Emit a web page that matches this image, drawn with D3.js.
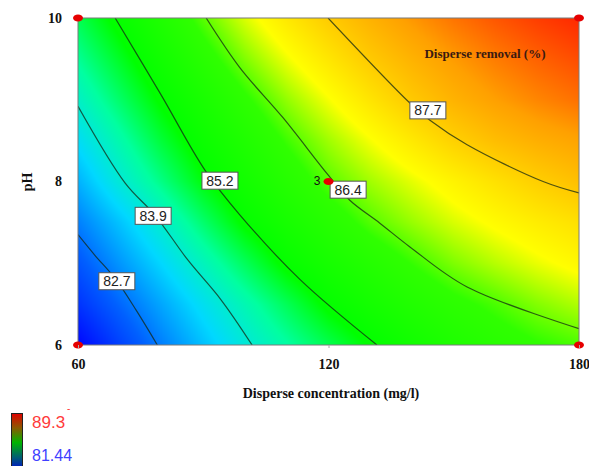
<!DOCTYPE html>
<html>
<head>
<meta charset="utf-8">
<script src="https://cdn.jsdelivr.net/npm/d3@7"></script>
<style>
  body { margin: 0; background: #fff; }
  svg { display: block; }
</style>
</head>
<body>
<div id="chart"></div>
<script>
// grid of the response surface
const concentrations = [60, 70, 80, 90, 100, 110, 120, 130, 140, 150, 160, 170, 180];
const phValues = [6, 6.5, 7, 7.5, 8, 8.5, 9, 9.5, 10];
const removal = [
  [81.50, 82.15, 82.75, 83.30, 83.82, 84.27, 84.71, 85.13, 85.48, 85.78, 86.00, 86.17, 86.30],
  [82.00, 82.55, 83.09, 83.63, 84.15, 84.67, 85.20, 85.55, 85.85, 86.10, 86.30, 86.52, 86.70],
  [82.38, 82.95, 83.50, 84.07, 84.65, 85.22, 85.60, 85.92, 86.22, 86.50, 86.72, 86.92, 87.10],
  [82.76, 83.33, 83.92, 84.56, 85.18, 85.60, 85.97, 86.33, 86.60, 86.85, 87.06, 87.25, 87.42],
  [83.18, 83.84, 84.44, 85.05, 85.52, 85.95, 86.35, 86.64, 86.90, 87.16, 87.41, 87.66, 87.87],
  [83.58, 84.20, 84.82, 85.36, 85.81, 86.25, 86.63, 86.97, 87.30, 87.63, 87.90, 88.10, 88.25],
  [83.99, 84.58, 85.17, 85.66, 86.14, 86.58, 86.97, 87.36, 87.74, 88.05, 88.30, 88.52, 88.70],
  [84.35, 84.92, 85.49, 86.02, 86.51, 86.94, 87.34, 87.73, 88.05, 88.34, 88.60, 88.82, 89.00],
  [84.70, 85.26, 85.82, 86.36, 86.86, 87.31, 87.71, 88.06, 88.38, 88.67, 88.92, 89.13, 89.30]
];

// contour lines: [concentration, pH]
const contour827 = [[60, 7.35], [64, 7.1], [69.1, 6.8], [74, 6.42], [79, 6]];
const contour839 = [[60, 8.92], [71.3, 7.98], [78.4, 7.59], [86.3, 7.04], [94.3, 6.55], [101.7, 6]];
const contour852 = [[68.9, 10], [79.9, 9.06], [90.4, 8.14], [98.8, 7.59], [113.2, 6.8], [131.6, 6]];
const contour864 = [[90.7, 10], [98.8, 9.39], [109.1, 8.78], [119.9, 8.08], [125.1, 7.77], [132.3, 7.49], [139.5, 7.2], [153.2, 6.71], [180, 6.2]];
const contour877 = [[119.9, 10], [139.5, 8.96], [144.3, 8.75], [153.2, 8.45], [171.4, 8.0], [180, 7.86]];
const contourLines = [contour827, contour839, contour852, contour864, contour877];

const contourLabels = ["82.7", "83.9", "85.2", "86.4", "87.7"];
const contourLabelAt = [[69.3, 6.78], [78.0, 7.58], [94.0, 8.01], [124.7, 7.9], [143.8, 8.87]];

const designPoints = [[60, 6], [60, 10], [180, 6], [180, 10], [120, 8]];
const centerRuns = "3";

const xTicks = [60, 120, 180];
const yTicks = [6, 8, 10];
const legendMax = "89.3";
const legendMin = "81.44";

// colour ramp
const colorStops = [81.44, 82.5, 83.5, 84.3, 85.1, 86.2, 87.0, 88.3, 89.3];
const colorRange = ["#0000ff", "#0060ff", "#00d8ff", "#00ffa0", "#00ff00", "#30ff00", "#ffff00", "#ffa000", "#ff2800"];

const W = 589, H = 466;
const margin = {top: 18, right: 10, bottom: 121, left: 78};
const width = 579 - margin.left;
const height = 345 - margin.top;

const svg = d3.select("#chart").append("svg")
    .attr("width", W)
    .attr("height", H);

const g = svg.append("g")
    .attr("transform", "translate(" + margin.left + "," + margin.top + ")");

const x = d3.scaleLinear().domain([60, 180]).range([0, width]);
const y = d3.scaleLinear().domain([6, 10]).range([height, 0]);
const color = d3.scaleLinear().domain(colorStops).range(colorRange).clamp(true);

function surface(c, ph) {
    let i = Math.max(0, Math.min(concentrations.length - 2, d3.bisectRight(concentrations, c) - 1));
    let j = Math.max(0, Math.min(phValues.length - 2, d3.bisectRight(phValues, ph) - 1));
    const tx = (c - concentrations[i]) / (concentrations[i + 1] - concentrations[i]);
    const ty = (ph - phValues[j]) / (phValues[j + 1] - phValues[j]);
    const a = removal[j][i], b = removal[j][i + 1];
    const cc = removal[j + 1][i], dd = removal[j + 1][i + 1];
    return (a * (1 - tx) + b * tx) * (1 - ty) + (cc * (1 - tx) + dd * tx) * ty;
}

// colour field on a canvas, placed as an image
const canvas = document.createElement("canvas");
canvas.width = width;
canvas.height = height;
const ctx = canvas.getContext("2d");
const img = ctx.createImageData(width, height);
for (let py = 0; py < height; py++) {
    const ph = y.invert(py + 0.5);
    for (let px = 0; px < width; px++) {
        const c = x.invert(px + 0.5);
        const col = d3.rgb(color(surface(c, ph)));
        const k = (py * width + px) * 4;
        img.data[k] = col.r;
        img.data[k + 1] = col.g;
        img.data[k + 2] = col.b;
        img.data[k + 3] = 255;
    }
}
ctx.putImageData(img, 0, 0);

g.append("image")
    .attr("x", 0).attr("y", 0)
    .attr("width", width).attr("height", height)
    .attr("preserveAspectRatio", "none")
    .attr("href", canvas.toDataURL());

g.append("clipPath").attr("id", "plotClip")
  .append("rect").attr("width", width).attr("height", height);

// contour lines
const line = d3.line()
    .x(d => x(d[0]))
    .y(d => y(d[1]))
    .curve(d3.curveCatmullRom);

g.append("g").attr("clip-path", "url(#plotClip)")
  .selectAll("path")
  .data(contourLines)
  .join("path")
    .attr("d", line)
    .attr("fill", "none")
    .attr("stroke", "rgba(20,40,20,0.75)")
    .attr("stroke-width", 1.2);

// plot frame
g.append("rect")
    .attr("width", width).attr("height", height)
    .attr("fill", "none")
    .attr("stroke", "#7a7a7a")
    .attr("stroke-width", 1);

// contour labels
const labelG = g.selectAll(".clab")
  .data(contourLabels)
  .join("g")
    .attr("class", "clab")
    .attr("transform", (d, i) => "translate(" + x(contourLabelAt[i][0]) + "," + y(contourLabelAt[i][1]) + ")");

labelG.append("rect")
    .attr("x", -18).attr("y", -8.5)
    .attr("width", 36).attr("height", 17)
    .attr("fill", "#fff")
    .attr("stroke", "#555")
    .attr("stroke-width", 1);

labelG.append("text")
    .attr("text-anchor", "middle")
    .attr("dy", "0.36em")
    .style("font-family", "Liberation Sans, Arial, sans-serif")
    .style("font-size", "14px")
    .attr("fill", "#222")
    .text(d => d);

// design points
g.selectAll(".dpt")
  .data(designPoints)
  .join("ellipse")
    .attr("class", "dpt")
    .attr("cx", d => x(d[0]))
    .attr("cy", d => y(d[1]))
    .attr("rx", 5).attr("ry", 3.5)
    .attr("fill", "#e60000");

g.append("text")
    .attr("x", x(120) - 8)
    .attr("y", y(8) + 3)
    .attr("text-anchor", "end")
    .style("font-family", "Liberation Sans, Arial, sans-serif")
    .style("font-size", "12px")
    .attr("fill", "#111")
    .text(centerRuns);

// inner title
g.append("text")
    .attr("x", 407)
    .attr("y", 40)
    .attr("text-anchor", "middle")
    .style("font-family", "Liberation Serif, Times New Roman, serif")
    .style("font-weight", "bold")
    .style("font-size", "13px")
    .attr("fill", "#3a1a12")
    .text("Disperse removal (%)");

// axes
const xAxis = g.append("g")
    .attr("transform", "translate(0," + height + ")")
    .call(d3.axisBottom(x).tickValues(xTicks).tickSize(3).tickPadding(11).tickFormat(d3.format("d")));
const yAxis = g.append("g")
    .call(d3.axisLeft(y).tickValues(yTicks).tickSize(0).tickPadding(16).tickFormat(d3.format("d")));

[xAxis, yAxis].forEach(ax => {
    ax.select(".domain").remove();
    ax.selectAll(".tick line").attr("stroke", "#aaa");
    ax.selectAll("text")
        .style("font-family", "Liberation Serif, Times New Roman, serif")
        .style("font-weight", "bold")
        .style("font-size", "14px")
        .attr("fill", "#111");
});

svg.append("text")
    .attr("x", 331)
    .attr("y", 398)
    .attr("text-anchor", "middle")
    .style("font-family", "Liberation Serif, Times New Roman, serif")
    .style("font-weight", "bold")
    .style("font-size", "14px")
    .attr("fill", "#111")
    .text("Disperse concentration (mg/l)");

svg.append("text")
    .attr("transform", "translate(32,182) rotate(-90)")
    .attr("text-anchor", "middle")
    .style("font-family", "Liberation Serif, Times New Roman, serif")
    .style("font-weight", "bold")
    .style("font-size", "14px")
    .attr("fill", "#111")
    .text("pH");

// legend colour bar
const defs = svg.append("defs");
const grad = defs.append("linearGradient")
    .attr("id", "legendGrad")
    .attr("x1", 0).attr("y1", 0).attr("x2", 0).attr("y2", 1);
const legendColors = ["#e00000", "#8a5a00", "#00b400", "#006070", "#0000e0"];
grad.selectAll("stop")
  .data(legendColors)
  .join("stop")
    .attr("offset", (d, i) => i / (legendColors.length - 1))
    .attr("stop-color", d => d);

svg.append("rect")
    .attr("x", 11.5).attr("y", 413.5)
    .attr("width", 11).attr("height", 58)
    .attr("fill", "url(#legendGrad)")
    .attr("stroke", "#222")
    .attr("stroke-width", 1);

svg.append("text")
    .attr("x", 32).attr("y", 428)
    .style("font-family", "Liberation Sans, Arial, sans-serif")
    .style("font-size", "17px")
    .attr("fill", "#ff3a3a")
    .text(legendMax);

svg.append("text")
    .attr("x", 67).attr("y", 412)
    .style("font-family", "Liberation Sans, Arial, sans-serif")
    .style("font-size", "10px")
    .attr("fill", "#ff3a3a")
    .text("-");

svg.append("text")
    .attr("x", 32).attr("y", 461)
    .style("font-family", "Liberation Sans, Arial, sans-serif")
    .style("font-size", "16px")
    .attr("fill", "#4040ff")
    .text(legendMin);
</script>
</body>
</html>
